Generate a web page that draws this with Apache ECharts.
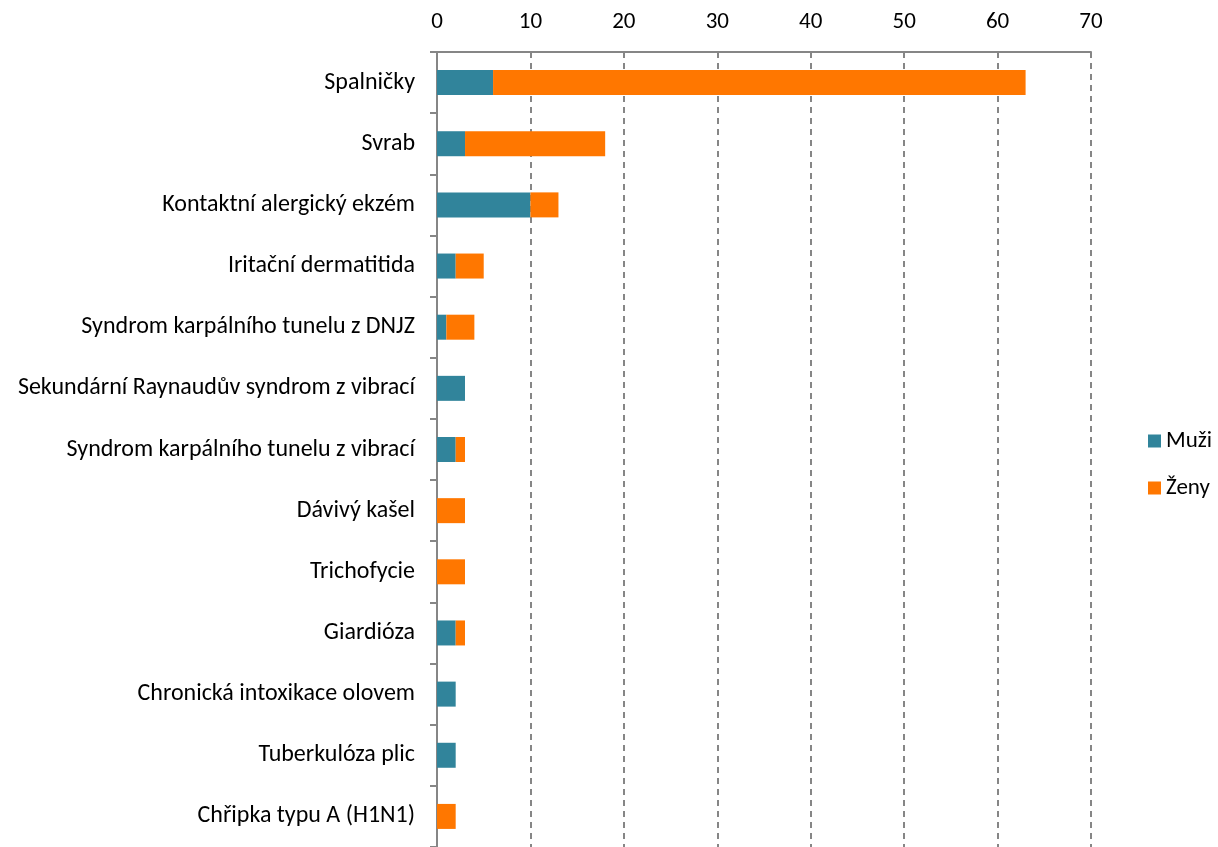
<!DOCTYPE html>
<html><head><meta charset="utf-8">
<script src="https://cdn.jsdelivr.net/npm/echarts@6/dist/echarts.min.js"></script>
<style>html,body{margin:0;padding:0;background:#fff}#c{width:1218px;height:847px}</style>
</head><body><div id="c"></div>
<script>
const categories = ["Spalničky","Svrab","Kontaktní alergický ekzém","Iritační dermatitida","Syndrom karpálního tunelu z DNJZ","Sekundární Raynaudův syndrom z vibrací","Syndrom karpálního tunelu z vibrací","Dávivý kašel","Trichofycie","Giardióza","Chronická intoxikace olovem","Tuberkulóza plic","Chřipka typu A (H1N1)"];
const muzi = [6,3,10,2,1,3,2,0,0,2,2,2,0];
const zeny = [57,15,3,3,3,0,1,3,3,1,0,0,2];
const seriesNames = ["Muži","Ženy"];
const FONT = "Carlito, 'Liberation Sans', sans-serif";
const chart = echarts.init(document.getElementById('c'));
chart.setOption({
  animation:false,
  grid:{left:437,right:127,top:52,bottom:-2,containLabel:false},
  legend:{orient:'vertical',left:1143,top:424,itemWidth:13,itemHeight:13,itemGap:23,icon:'rect',
    textStyle:{fontFamily:FONT,fontSize:23,lineHeight:24,color:'#000'},data:seriesNames},
  xAxis:{type:'value',position:'top',min:0,max:70,interval:10,
    axisLine:{show:true,lineStyle:{color:'#868686',width:2}},
    axisTick:{show:true,inside:true,length:6,lineStyle:{color:'#868686',width:2}},
    axisLabel:{fontFamily:FONT,fontSize:23,color:'#000',margin:18},
    splitLine:{show:true,lineStyle:{color:'#868686',type:[6,5],width:2}}},
  yAxis:{type:'category',inverse:true,data:categories,
    axisLine:{show:true,lineStyle:{color:'#868686',width:2}},
    axisTick:{show:true,length:7,alignWithLabel:false,lineStyle:{color:'#868686',width:2}},
    axisLabel:{fontFamily:FONT,fontSize:24,color:'#000',margin:22}},
  series:[
    {name:seriesNames[0],type:'bar',stack:'a',data:muzi,barWidth:25,itemStyle:{color:'#31849B'}},
    {name:seriesNames[1],type:'bar',stack:'a',data:zeny,barWidth:25,itemStyle:{color:'#FF7700'}}
  ]
});
</script></body></html>
